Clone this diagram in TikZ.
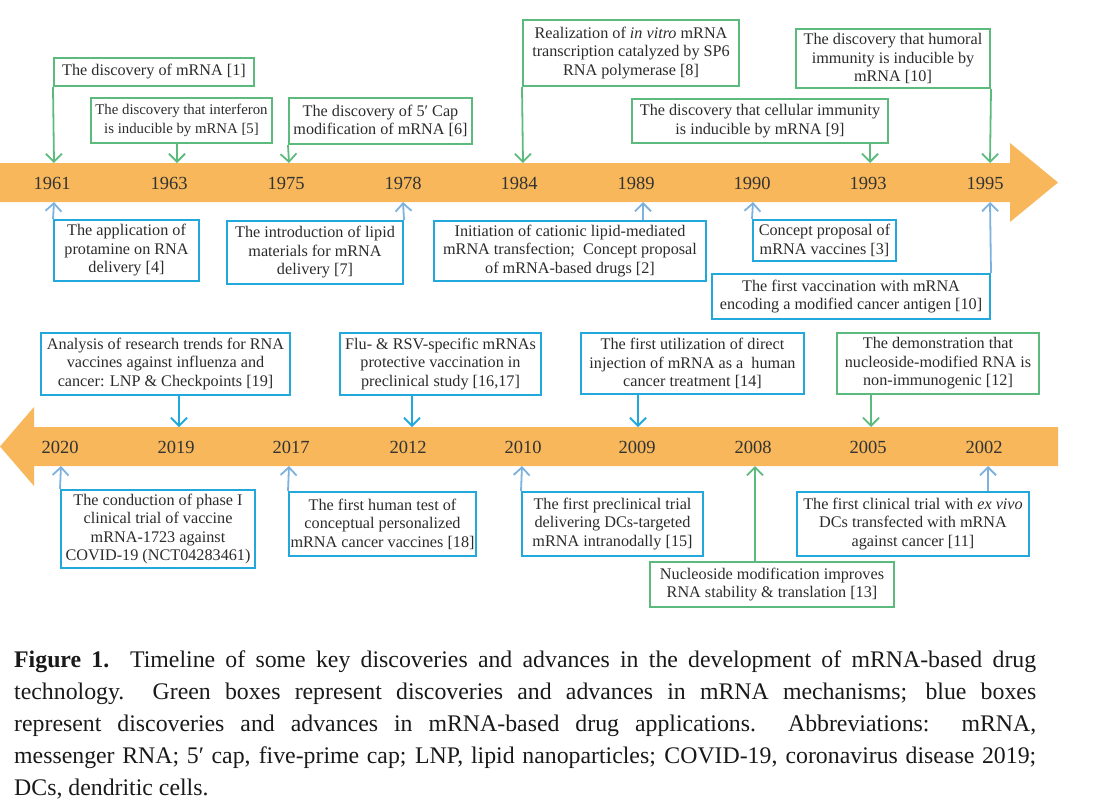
\documentclass[tikz,border=0pt]{standalone}
\usepackage{fontspec}
\setmainfont{Liberation Serif}
\usetikzlibrary{arrows.meta}
\definecolor{bandc}{HTML}{F7B75A}
\definecolor{grn}{HTML}{5DBA7D}
\definecolor{blu}{HTML}{23A8DB}
\definecolor{lblu}{HTML}{7DB1DE}
\definecolor{txt}{HTML}{2B2B2B}
\definecolor{yrtxt}{HTML}{333333}
\newcommand{\tlbox}[7]{\node[#1, minimum width={#5-#3}, minimum height={#6-#4}] (#2) at ({(#3+#5)/2},{(#4+#6)/2}) {#7};}
\tikzset{
  tlbase/.style={draw, line width=2pt, inner sep=0pt, align=center, text=txt, font=\fontsize{16.2}{18.5}\selectfont},
  gbox/.style={tlbase, draw=grn},
  bbox/.style={tlbase, draw=blu},
  yearlbl/.style={font=\fontsize{18.5}{20}\selectfont, text=yrtxt, inner sep=0pt},
  conn/.style={line width=1.8pt, -{Straight Barb[length=8pt,width=16pt]}},
  gconn/.style={conn, draw=grn},
  bconn/.style={conn, draw=blu},
  lconn/.style={conn, draw=lblu},
  capline/.style={anchor=base west, inner sep=0pt, text=black!90, font=\fontsize{23.8}{32}\selectfont}
}
\begin{document}
\begin{tikzpicture}[x=1pt,y=-1pt]
\useasboundingbox (0,0) rectangle (1095,804);
% bands
\fill[bandc] (0,163) -- (1010,163) -- (1010,143) -- (1058,182.5) -- (1010,222) -- (1010,202) -- (0,202) -- cycle;
\fill[bandc] (1058,427) -- (34,427) -- (34,407) -- (0,446.5) -- (34,486) -- (34,466) -- (1058,466) -- cycle;
% top years
\node[yearlbl] (y1961) at (52,183) {1961};
\node[yearlbl] (y1963) at (169,183) {1963};
\node[yearlbl] (y1975) at (286,183) {1975};
\node[yearlbl] (y1978) at (403,183) {1978};
\node[yearlbl] (y1984) at (519,183) {1984};
\node[yearlbl] (y1989) at (636,183) {1989};
\node[yearlbl] (y1990) at (752,183) {1990};
\node[yearlbl] (y1993) at (868,183) {1993};
\node[yearlbl] (y1995) at (985,183) {1995};
% bottom years
\node[yearlbl] (y2020) at (60,447) {2020};
\node[yearlbl] (y2019) at (176,447) {2019};
\node[yearlbl] (y2017) at (291,447) {2017};
\node[yearlbl] (y2012) at (408,447) {2012};
\node[yearlbl] (y2010) at (523,447) {2010};
\node[yearlbl] (y2009) at (637,447) {2009};
\node[yearlbl] (y2008) at (753,447) {2008};
\node[yearlbl] (y2005) at (868,447) {2005};
\node[yearlbl] (y2002) at (984,447) {2002};
% arrow end points on the bands
\coordinate (t1961) at (54,163);
\coordinate (t1963) at (177,163);
\coordinate (t1975) at (289,163);
\coordinate (t1984) at (523,163);
\coordinate (t1993) at (870,163);
\coordinate (t1995) at (990,163);
\coordinate (u1961) at (54,202);
\coordinate (u1978) at (403,202);
\coordinate (u1989) at (643,202);
\coordinate (u1990) at (753,202);
\coordinate (u1995) at (990,202);
\coordinate (t2019) at (179,427);
\coordinate (t2012) at (412,427);
\coordinate (t2009) at (638,427);
\coordinate (t2005) at (871,427);
\coordinate (u2020) at (61,466);
\coordinate (u2017) at (289,466);
\coordinate (u2010) at (522,466);
\coordinate (u2008) at (755,466);
\coordinate (u2002) at (988,466);
% top boxes
\tlbox{gbox}{b1}{54}{58}{254}{86}{The discovery of mRNA [1]}
\tlbox{gbox, font=\fontsize{14.8}{18.5}\selectfont}{b2}{91}{98}{272}{143}{The discovery that interferon\\is inducible by mRNA [5]}
\tlbox{gbox}{b3}{289}{98}{472}{144}{The discovery of 5′ Cap\\modification of mRNA [6]}
\tlbox{gbox}{b4}{523}{20}{739}{86}{Realization of \textit{in vitro} mRNA\\transcription catalyzed by SP6\\RNA polymerase [8]}
\tlbox{gbox}{b5}{632}{99}{888}{143}{The discovery that cellular immunity\\is inducible by mRNA [9]}
\tlbox{gbox}{b6}{796}{29}{990}{88}{The discovery that humoral\\immunity is inducible by\\mRNA [10]}
\tlbox{bbox}{b7}{54}{220}{199}{281}{The application of\\protamine on RNA\\delivery [4]}
\tlbox{bbox}{b8}{227}{221}{403}{284}{The introduction of lipid\\materials for mRNA\\delivery [7]}
\tlbox{bbox}{b9}{434}{221}{706}{281}{Initiation of cationic lipid-mediated\\mRNA transfection;\ \ Concept proposal\\of mRNA-based drugs [2]}
\tlbox{bbox}{b10}{753}{220}{896}{261}{Concept proposal of\\mRNA vaccines [3]}
\tlbox{bbox}{b11}{712}{274}{990}{319}{The first vaccination with mRNA\\encoding a modified cancer antigen [10]}
% bottom boxes
\tlbox{bbox}{b12}{41}{333}{290}{395}{Analysis of research trends for RNA\\vaccines against influenza and\\cancer: LNP \& Checkpoints [19]}
\tlbox{bbox}{b13}{340}{333}{541}{395}{Flu- \& RSV-specific mRNAs\\protective vaccination in\\preclinical study [16,17]}
\tlbox{bbox}{b14}{581}{333}{804}{394}{The first utilization of direct\\injection of mRNA as a\ \ human\\cancer treatment [14]}
\tlbox{gbox}{b15}{837}{333}{1039}{394}{The demonstration that\\nucleoside-modified RNA is\\non-immunogenic [12]}
\tlbox{bbox}{b16}{61}{490}{255}{568}{The conduction of phase I\\clinical trial of vaccine\\mRNA-1723 against\\COVID-19 (NCT04283461)}
\tlbox{bbox}{b17}{289}{492}{476}{556}{The first human test of\\conceptual personalized\\mRNA cancer vaccines [18]}
\tlbox{bbox}{b18}{522}{492}{703}{556}{The first preclinical trial\\delivering DCs-targeted\\mRNA intranodally [15]}
\tlbox{gbox}{b19}{650}{562}{894}{607}{Nucleoside modification improves\\RNA stability \& translation [13]}
\tlbox{bbox}{b20}{797}{492}{1029}{556}{The first clinical trial with \textit{ex vivo}\\DCs transfected with mRNA\\against cancer [11]}
% connectors top
\draw[gconn] (b1.south west) -- (t1961);
\draw[gconn] (b2.south -| t1963) -- (t1963);
\draw[gconn] (b3.south west) -- (t1975);
\draw[gconn] (b4.south west) -- (t1984);
\draw[gconn] (b5.south -| t1993) -- (t1993);
\draw[gconn] (b6.south east) -- (t1995);
\draw[lconn] (b7.north west) -- (u1961);
\draw[lconn] (b8.north east) -- (u1978);
\draw[lconn] (b9.north -| u1989) -- (u1989);
\draw[lconn] (b10.north west) -- (u1990);
\draw[lconn] (b11.north east) -- (u1995);
% connectors bottom
\draw[bconn] (b12.south -| t2019) -- (t2019);
\draw[bconn] (b13.south -| t2012) -- (t2012);
\draw[bconn] (b14.south -| t2009) -- (t2009);
\draw[gconn] (b15.south -| t2005) -- (t2005);
\draw[lconn] (b16.north west) -- (u2020);
\draw[lconn] (b17.north west) -- (u2017);
\draw[lconn] (b18.north west) -- (u2010);
\draw[gconn] (b19.north -| u2008) -- (u2008);
\draw[lconn] (b20.north -| u2002) -- (u2002);
% caption
\node[capline] (c1) at (14,667) {\makebox[1022pt][s]{\textbf{Figure 1.} Timeline of some key discoveries and advances in the development of mRNA-based drug}};
\node[capline] (c2) at (14,699) {\makebox[1022pt][s]{technology.\ \ Green boxes represent discoveries and advances in mRNA mechanisms; blue boxes}};
\node[capline] (c3) at (14,731) {\makebox[1022pt][s]{represent discoveries and advances in mRNA-based drug applications.\ \ Abbreviations:\ \ mRNA,}};
\node[capline] (c4) at (14,763) {\makebox[1022pt][s]{messenger RNA; 5′ cap, five-prime cap; LNP, lipid nanoparticles; COVID-19, coronavirus disease 2019;}};
\node[capline] (c5) at (14,795) {DCs, dendritic cells.};
\end{tikzpicture}
\end{document}
